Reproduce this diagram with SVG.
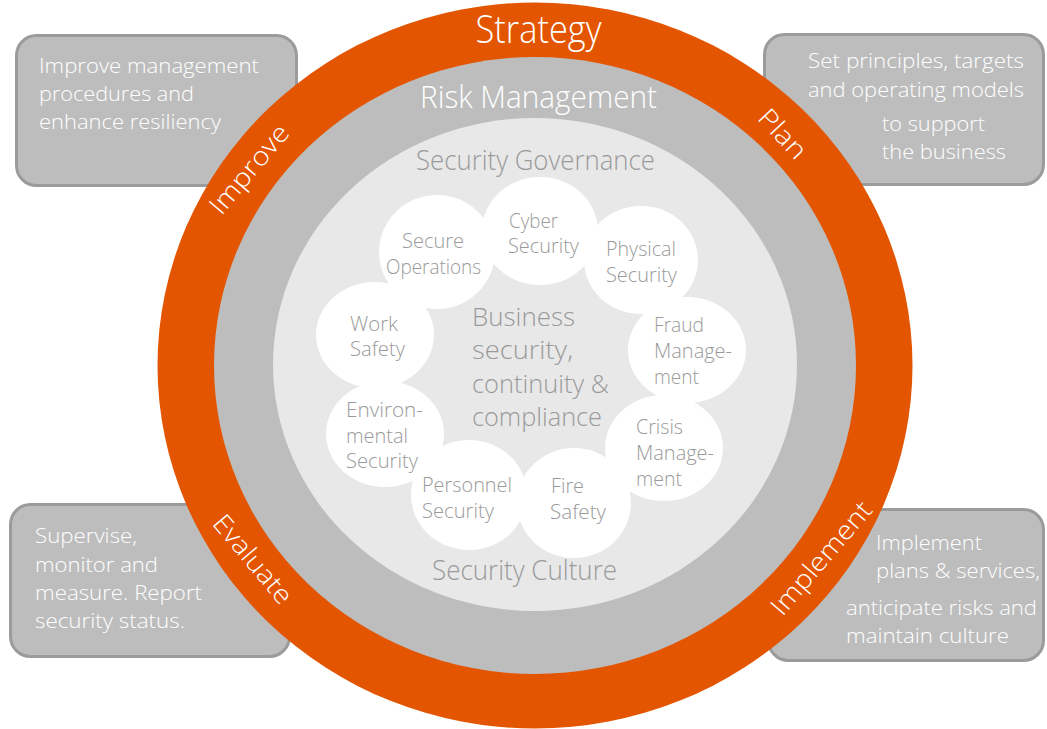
<svg xmlns="http://www.w3.org/2000/svg" width="1047" height="729" viewBox="0 0 1047 729">
  <style>
    .box { fill: #bdbdbd; stroke: #9b9b9b; stroke-width: 3; }
    .boxtxt { font-family: "Open Sans", "Liberation Sans", sans-serif; font-weight: 300; font-size: 21px; fill: #ffffff; }
    .ring { font-family: "Open Sans", "Liberation Sans", sans-serif; font-weight: 300; fill: #ffffff; }
    .layer { font-family: "Open Sans", "Liberation Sans", sans-serif; font-weight: 300; fill: #9a9a9a; }
    .petal { fill: #ffffff; }
    .ptxt { font-family: "Open Sans", "Liberation Sans", sans-serif; font-weight: 300; font-size: 19.5px; fill: #9a9a9a; }
  </style>
  <rect width="1047" height="729" fill="#ffffff"/>

  <!-- corner description boxes (behind the rings) -->
  <g id="box-improve">
    <rect class="box" x="16.5" y="35.5" width="280" height="150" rx="20"/>
    <text class="boxtxt"><tspan x="39" y="73" textLength="220" lengthAdjust="spacingAndGlyphs">Improve management</tspan><tspan x="39" y="101" textLength="155" lengthAdjust="spacingAndGlyphs">procedures and</tspan><tspan x="39" y="129" textLength="182" lengthAdjust="spacingAndGlyphs">enhance resiliency</tspan></text>
  </g>
  <g id="box-plan">
    <rect class="box" x="764.5" y="34.5" width="279" height="150" rx="20"/>
    <text class="boxtxt"><tspan x="808" y="68" textLength="216" lengthAdjust="spacingAndGlyphs">Set principles, targets</tspan><tspan x="808" y="97" textLength="216" lengthAdjust="spacingAndGlyphs">and operating models</tspan><tspan x="882" y="131" textLength="103" lengthAdjust="spacingAndGlyphs">to support</tspan><tspan x="882" y="159" textLength="124" lengthAdjust="spacingAndGlyphs">the business</tspan></text>
  </g>
  <g id="box-evaluate">
    <rect class="box" x="10.5" y="504.5" width="279" height="152" rx="20"/>
    <text class="boxtxt"><tspan x="35" y="543" textLength="102" lengthAdjust="spacingAndGlyphs">Supervise,</tspan><tspan x="35" y="572" textLength="123" lengthAdjust="spacingAndGlyphs">monitor and</tspan><tspan x="35" y="600" textLength="167" lengthAdjust="spacingAndGlyphs">measure. Report</tspan><tspan x="35" y="628" textLength="150" lengthAdjust="spacingAndGlyphs">security status.</tspan></text>
  </g>
  <g id="box-implement">
    <rect class="box" x="768.5" y="509.5" width="275" height="151" rx="20"/>
    <text class="boxtxt"><tspan x="876" y="550" textLength="106" lengthAdjust="spacingAndGlyphs">Implement</tspan><tspan x="876" y="578" textLength="164" lengthAdjust="spacingAndGlyphs">plans &amp; services,</tspan><tspan x="846" y="615" textLength="191" lengthAdjust="spacingAndGlyphs">anticipate risks and</tspan><tspan x="846" y="643" textLength="163" lengthAdjust="spacingAndGlyphs">maintain culture</tspan></text>
  </g>

  <!-- concentric rings -->
  <g id="ring-strategy">
    <ellipse cx="535" cy="365.5" rx="377.5" ry="363" fill="#e35500"/>
    <text class="ring" x="538.5" y="43" font-size="38" text-anchor="middle" textLength="126" lengthAdjust="spacingAndGlyphs">Strategy</text>
    <text class="ring" font-size="26" text-anchor="middle" transform="translate(256 175) rotate(-50)" textLength="108" lengthAdjust="spacingAndGlyphs">Improve</text>
    <text class="ring" font-size="26" text-anchor="middle" transform="translate(776 140) rotate(47)" textLength="58" lengthAdjust="spacingAndGlyphs">Plan</text>
    <text class="ring" font-size="26" text-anchor="middle" transform="translate(246 565) rotate(50)" textLength="108" lengthAdjust="spacingAndGlyphs">Evaluate</text>
    <text class="ring" font-size="26" text-anchor="middle" transform="translate(828 564) rotate(-49.5)" textLength="140" lengthAdjust="spacingAndGlyphs">Implement</text>
  </g>
  <g id="ring-risk">
    <ellipse cx="535" cy="365.5" rx="321" ry="308.5" fill="#bdbdbd"/>
    <text class="ring" x="538.5" y="108" font-size="31" text-anchor="middle" textLength="237" lengthAdjust="spacingAndGlyphs">Risk Management</text>
  </g>
  <g id="ring-governance">
    <ellipse cx="535" cy="364.5" rx="262" ry="246.5" fill="#e8e8e8"/>
    <text class="layer" x="535.5" y="170" font-size="27" text-anchor="middle" textLength="239" lengthAdjust="spacingAndGlyphs">Security Governance</text>
    <text class="layer" x="524.5" y="580" font-size="27" text-anchor="middle" textLength="185" lengthAdjust="spacingAndGlyphs">Security Culture</text>
  </g>

  <!-- security domains -->
  <g id="petals">
    <ellipse class="petal" cx="437" cy="252" rx="58" ry="57"/>
    <ellipse class="petal" cx="540" cy="231" rx="58" ry="54"/>
    <ellipse class="petal" cx="641" cy="260" rx="57" ry="54"/>
    <ellipse class="petal" cx="375" cy="335" rx="59" ry="53"/>
    <ellipse class="petal" cx="687" cy="350" rx="59" ry="53"/>
    <ellipse class="petal" cx="385" cy="434" rx="59" ry="53"/>
    <ellipse class="petal" cx="664" cy="448" rx="59" ry="53"/>
    <ellipse class="petal" cx="469" cy="495" rx="58" ry="55"/>
    <ellipse class="petal" cx="574" cy="503" rx="57" ry="55"/>
  </g>
  <g id="node-secure-operations">
    <text class="ptxt"><tspan x="402" y="248" textLength="62" lengthAdjust="spacingAndGlyphs">Secure</tspan><tspan x="386" y="274" textLength="95" lengthAdjust="spacingAndGlyphs">Operations</tspan></text>
  </g>
  <g id="node-cyber-security">
    <text class="ptxt"><tspan x="509" y="228" textLength="49" lengthAdjust="spacingAndGlyphs">Cyber</tspan><tspan x="508" y="253" textLength="71" lengthAdjust="spacingAndGlyphs">Security</tspan></text>
  </g>
  <g id="node-physical-security">
    <text class="ptxt"><tspan x="606" y="256" textLength="70" lengthAdjust="spacingAndGlyphs">Physical</tspan><tspan x="606" y="282" textLength="71" lengthAdjust="spacingAndGlyphs">Security</tspan></text>
  </g>
  <g id="node-work-safety">
    <text class="ptxt"><tspan x="350" y="331" textLength="48" lengthAdjust="spacingAndGlyphs">Work</tspan><tspan x="350" y="356" textLength="55" lengthAdjust="spacingAndGlyphs">Safety</tspan></text>
  </g>
  <g id="node-fraud-management">
    <text class="ptxt"><tspan x="654" y="332" textLength="50" lengthAdjust="spacingAndGlyphs">Fraud</tspan><tspan x="654" y="358" textLength="78" lengthAdjust="spacingAndGlyphs">Manage-</tspan><tspan x="654" y="384" textLength="45" lengthAdjust="spacingAndGlyphs">ment</tspan></text>
  </g>
  <g id="node-environmental-security">
    <text class="ptxt"><tspan x="346" y="417" textLength="77" lengthAdjust="spacingAndGlyphs">Environ-</tspan><tspan x="346" y="443" textLength="62" lengthAdjust="spacingAndGlyphs">mental</tspan><tspan x="346" y="468" textLength="72" lengthAdjust="spacingAndGlyphs">Security</tspan></text>
  </g>
  <g id="node-crisis-management">
    <text class="ptxt"><tspan x="636" y="434" textLength="47" lengthAdjust="spacingAndGlyphs">Crisis</tspan><tspan x="636" y="460" textLength="78" lengthAdjust="spacingAndGlyphs">Manage-</tspan><tspan x="636" y="486" textLength="46" lengthAdjust="spacingAndGlyphs">ment</tspan></text>
  </g>
  <g id="node-personnel-security">
    <text class="ptxt"><tspan x="422" y="492" textLength="90" lengthAdjust="spacingAndGlyphs">Personnel</tspan><tspan x="422" y="518" textLength="72" lengthAdjust="spacingAndGlyphs">Security</tspan></text>
  </g>
  <g id="node-fire-safety">
    <text class="ptxt"><tspan x="551" y="493" textLength="33" lengthAdjust="spacingAndGlyphs">Fire</tspan><tspan x="550" y="519" textLength="56" lengthAdjust="spacingAndGlyphs">Safety</tspan></text>
  </g>

  <!-- core statement -->
  <g id="node-core">
    <text class="layer" font-size="26"><tspan x="472" y="326" textLength="103" lengthAdjust="spacingAndGlyphs">Business</tspan><tspan x="472" y="359" textLength="101" lengthAdjust="spacingAndGlyphs">security,</tspan><tspan x="472" y="393" textLength="137" lengthAdjust="spacingAndGlyphs">continuity &amp;</tspan><tspan x="472" y="426" textLength="130" lengthAdjust="spacingAndGlyphs">compliance</tspan></text>
  </g>

  <!-- no connectors in this diagram -->
  <g id="connectors"/>
</svg>
